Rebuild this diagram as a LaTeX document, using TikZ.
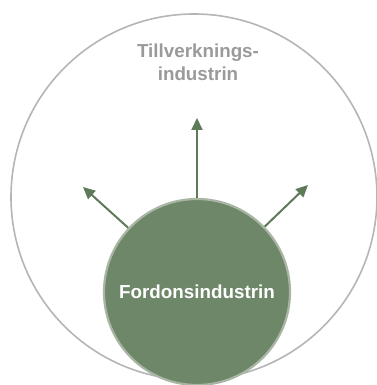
\documentclass[tikz,border=0pt]{standalone}
\usepackage{fontspec}
\setmainfont{Liberation Sans}
\usetikzlibrary{arrows.meta}
\definecolor{ringgrey}{HTML}{B5B5B5}
\definecolor{labelgrey}{HTML}{9A9A9A}
\definecolor{fordongreen}{HTML}{6F8769}
\definecolor{fordonrim}{HTML}{A8B6A3}
\definecolor{arrowgreen}{HTML}{5F7A59}
\begin{document}
\begin{tikzpicture}[x=1pt,y=1pt,
   pil/.style={draw=arrowgreen,line width=2pt,-{Triangle[length=12pt,width=11pt]}}]
   \useasboundingbox (0,0) rectangle (376,385);
   \node[circle,draw=ringgrey,line width=1.6pt,minimum size=366pt,inner sep=0pt] (tillverkning) at (194,188) {};
   \node[text=labelgrey,font=\bfseries\fontsize{18.8}{23}\selectfont,align=center] (tillverkninglabel) at (198,323) {Tillverknings-\\industrin};
   \node[circle,fill=fordongreen,draw=fordonrim,line width=2.2pt,minimum size=186pt,inner sep=0pt,
         text=white,font=\bfseries\fontsize{18.8}{22}\selectfont] (fordon) at (197,93) {Fordonsindustrin};
   \coordinate (vanster) at (83,198);
   \coordinate (upp) at (197,267);
   \coordinate (hoger) at (308,200);
   \draw[pil] (fordon.90) -- (upp);
   \draw[pil] (fordon.137) -- (vanster);
   \draw[pil] (fordon.44) -- (hoger);
 \end{tikzpicture}
\end{document}
